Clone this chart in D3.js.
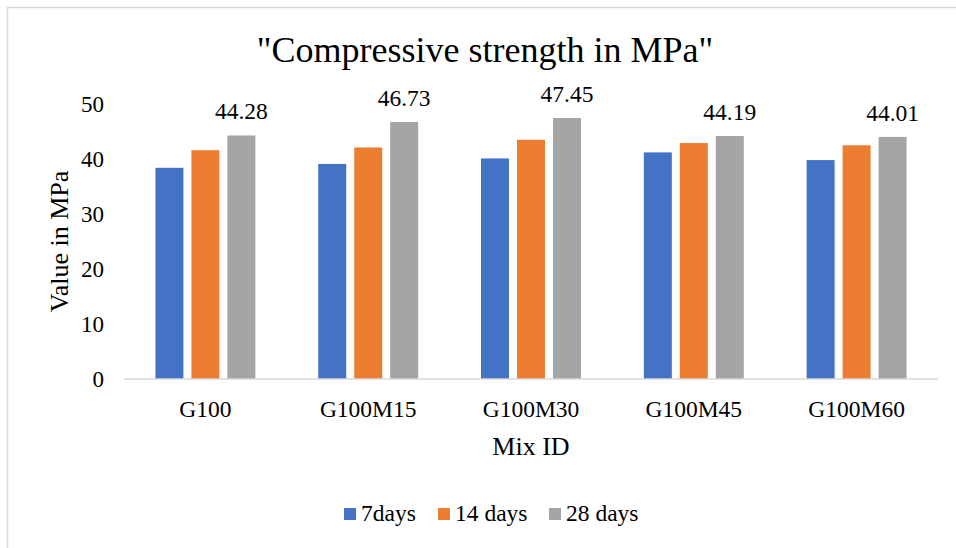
<!DOCTYPE html>
<html lang="en">
<head>
  <meta charset="UTF-8">
  <title>Compressive strength in MPa</title>
  <script src="https://d3js.org/d3.v7.min.js"></script>
  <style>
    body { margin: 0; background: #fff; }
    svg { display: block; }
  </style>
</head>
<body>
<svg id="chart" width="956" height="548"></svg>
<script>
// chart data
const mixes = ["G100", "G100M15", "G100M30", "G100M45", "G100M60"];
const seriesNames = ["7days", "14 days", "28 days"];
const days7 = [38.4, 39.1, 40.1, 41.2, 39.8];
const days14 = [41.6, 42.1, 43.5, 42.9, 42.5];
const days28 = [44.28, 46.73, 47.45, 44.19, 44.01];
const yTicks = [0, 10, 20, 30, 40, 50];
const colors = ["#4472C4", "#ED7D31", "#A5A5A5"];

const FONT = "Liberation Serif";
const seriesValues = [days7, days14, days28];
const rows = mixes.map((m, i) => ({
  mix: m,
  values: seriesNames.map((s, j) => ({ key: s, value: seriesValues[j][i], idx: j }))
}));

const svg = d3.select("#chart");
const width = 956, height = 548;
const margin = { top: 104, right: 18, bottom: 169, left: 124 };

svg.append("rect").attr("width", width).attr("height", height).attr("fill", "#fff");

// chart frame (only left and top edges visible in the crop)
svg.append("path")
  .attr("d", `M7.5,${height} V7.5 H${width}`)
  .attr("fill", "none")
  .attr("stroke", "#d9d9d9")
  .attr("stroke-width", 1.5);

const x0 = d3.scaleBand()
  .domain(mixes)
  .range([margin.left, width - margin.right])
  .paddingInner(0.386)
  .paddingOuter(0.193);

const x1 = d3.scaleBand()
  .domain(seriesNames)
  .range([0, x0.bandwidth()])
  .paddingInner(0.222);

const y = d3.scaleLinear()
  .domain([0, 50])
  .range([height - margin.bottom, margin.top]);

// title
svg.append("text")
  .attr("x", 485)
  .attr("y", 62)
  .attr("text-anchor", "middle")
  .style("font-family", FONT)
  .style("font-size", "36px")
  .attr("fill", "#000")
  .text("\"Compressive strength in MPa\"");

// y tick labels (no axis line, no grid)
svg.append("g")
  .selectAll("text")
  .data(yTicks)
  .join("text")
  .attr("x", 104)
  .attr("y", d => y(d))
  .attr("dy", "0.33em")
  .attr("text-anchor", "end")
  .style("font-family", FONT)
  .style("font-size", "23px")
  .attr("fill", "#000")
  .text(d => d);

// bars
const groups = svg.append("g")
  .selectAll("g")
  .data(rows)
  .join("g")
  .attr("transform", d => `translate(${x0(d.mix)},0)`);

groups.selectAll("rect")
  .data(d => d.values)
  .join("rect")
  .attr("x", d => x1(d.key))
  .attr("y", d => y(d.value))
  .attr("width", x1.bandwidth())
  .attr("height", d => y(0) - y(d.value))
  .attr("fill", d => colors[d.idx]);

// data labels on the 28 days series
groups.append("text")
  .attr("x", x1("28 days") + x1.bandwidth() / 2)
  .attr("y", d => y(d.values[2].value) - 16)
  .attr("text-anchor", "middle")
  .style("font-family", FONT)
  .style("font-size", "23.5px")
  .attr("fill", "#000")
  .text(d => d.values[2].value.toFixed(2));

// x axis
const xAxis = svg.append("g")
  .attr("transform", `translate(0,${y(0)})`)
  .call(d3.axisBottom(x0).tickSize(0).tickPadding(0));
xAxis.select(".domain")
  .attr("d", `M${margin.left},0H${width - margin.right}`)
  .attr("stroke", "#d9d9d9")
  .attr("stroke-width", 1.5);
xAxis.selectAll("text")
  .attr("y", 38)
  .attr("dy", 0)
  .style("font-family", FONT)
  .style("font-size", "23.5px")
  .attr("fill", "#000");

// axis titles
svg.append("text")
  .attr("x", (margin.left + width - margin.right) / 2)
  .attr("y", 455)
  .attr("text-anchor", "middle")
  .style("font-family", FONT)
  .style("font-size", "26px")
  .attr("fill", "#000")
  .text("Mix ID");

svg.append("text")
  .attr("transform", `translate(68,${(y(0) + y(50)) / 2}) rotate(-90)`)
  .attr("text-anchor", "middle")
  .style("font-family", FONT)
  .style("font-size", "26px")
  .attr("fill", "#000")
  .text("Value in MPa");

// legend
const legendX = [344, 438, 549];
const legend = svg.append("g")
  .selectAll("g")
  .data(seriesNames)
  .join("g")
  .attr("transform", (d, i) => `translate(${legendX[i]},508)`);
legend.append("rect")
  .attr("width", 12)
  .attr("height", 12)
  .attr("fill", (d, i) => colors[i]);
legend.append("text")
  .attr("x", 17)
  .attr("y", 13)
  .style("font-family", FONT)
  .style("font-size", "23.5px")
  .attr("fill", "#000")
  .text(d => d);
</script>
</body>
</html>
